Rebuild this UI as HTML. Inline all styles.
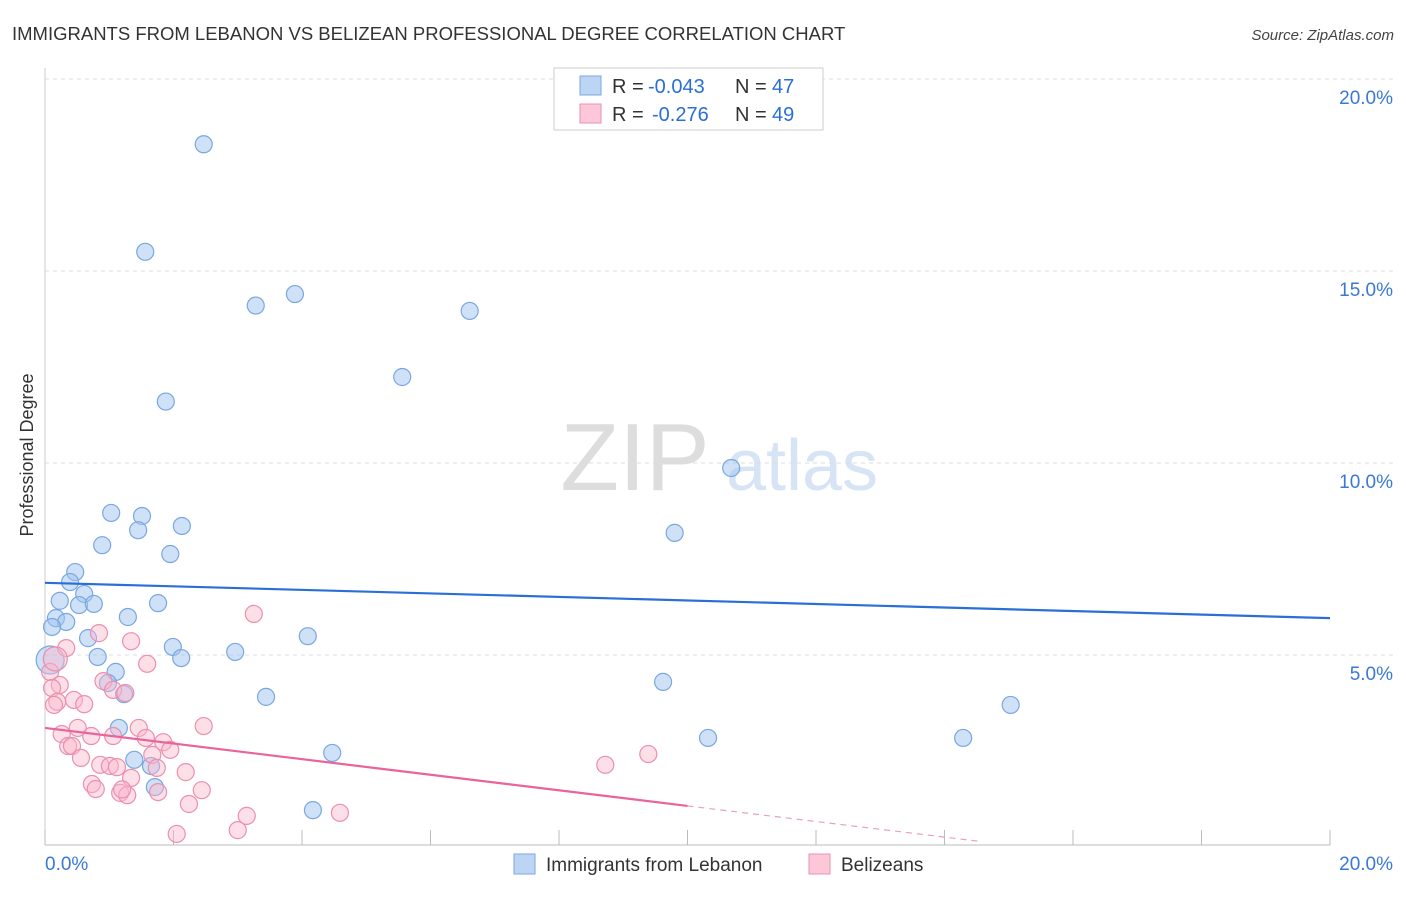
<!DOCTYPE html>
<html><head><meta charset="utf-8"><style>
body{margin:0;background:#fff;font-family:"Liberation Sans",sans-serif}
svg text{font-family:"Liberation Sans",sans-serif}
</style></head><body>
<svg id="chart" width="1406" height="892" xmlns="http://www.w3.org/2000/svg">
<text x="12" y="40" font-size="18.5" fill="#333">IMMIGRANTS FROM LEBANON VS BELIZEAN PROFESSIONAL DEGREE CORRELATION CHART</text>
<text x="1394" y="40" font-size="15" fill="#444" font-style="italic" text-anchor="end">Source: ZipAtlas.com</text>
<text x="33" y="455" font-size="18" fill="#333" text-anchor="middle" transform="rotate(-90 33 455)">Professional Degree</text>
<g><text x="635" y="490" font-size="96" fill="#ddd" font-family="Liberation Serif" text-anchor="middle">ZIP</text><text x="802" y="490" font-size="72" fill="#d6e4f5" text-anchor="middle">atlas</text></g>
<g id="grid"></g><g id="marks"></g>
<g>
<rect x="554" y="68" width="269" height="62" fill="#fff" stroke="#ccc"/>
<rect x="580" y="76" width="21" height="19" fill="#bcd5f5" stroke="#7aa7e0"/>
<rect x="580" y="104" width="21" height="19" fill="#fcc8d8" stroke="#eb8fb0"/>
<text x="612" y="93" font-size="20" fill="#333">R =</text>
<text x="648" y="93" font-size="20" fill="#2a6fd6">-0.043</text>
<text x="735" y="93" font-size="20" fill="#333">N =</text>
<text x="772" y="93" font-size="20" fill="#2a6fd6">47</text>
<text x="612" y="121" font-size="20" fill="#333">R =</text>
<text x="652" y="121" font-size="20" fill="#2a6fd6">-0.276</text>
<text x="735" y="121" font-size="20" fill="#333">N =</text>
<text x="772" y="121" font-size="20" fill="#2a6fd6">49</text>
</g>
<g>
<rect x="514" y="854" width="21" height="20" fill="#bcd5f5" stroke="#7aa7e0"/>
<text x="546" y="871" font-size="19" fill="#333">Immigrants from Lebanon</text>
<rect x="809" y="854" width="21" height="20" fill="#fcc8d8" stroke="#eb8fb0"/>
<text x="841" y="871" font-size="19" fill="#333">Belizeans</text>
</g>
</svg>
<script>
const yTicks=[5,10,15,20];
const xTickLabels=["0.0%","20.0%"];
const blueX=[2.47,1.56,3.28,3.89,6.61,5.56,1.88,10.68,9.8,1.03,1.51,2.13,1.45,0.89,1.95,0.47,0.39,0.61,0.23,0.53,0.76,1.76,1.29,0.17,0.33,0.11,4.09,0.67,1.99,2.96,0.82,2.12,0.08,1.1,0.98,1.23,3.44,9.62,15.03,1.15,10.32,14.29,4.47,1.39,1.65,1.71,4.17];
const blueY=[18.3,15.5,14.1,14.4,13.96,12.24,11.6,9.87,8.18,8.7,8.62,8.36,8.25,7.86,7.63,7.16,6.9,6.59,6.41,6.3,6.33,6.35,5.99,5.96,5.86,5.73,5.49,5.44,5.21,5.08,4.95,4.92,4.87,4.56,4.27,3.98,3.91,4.3,3.7,3.1,2.84,2.84,2.45,2.27,2.11,1.56,0.96];
const pinkX=[3.25,0.84,1.34,0.33,1.59,0.08,0.23,0.11,0.91,1.06,1.25,0.45,0.19,0.61,0.14,2.47,1.46,0.51,0.26,0.72,1.06,1.57,1.84,0.36,0.42,1.95,1.67,0.56,9.39,8.72,0.86,1.01,1.12,1.74,2.19,1.34,0.73,0.79,1.17,1.28,1.76,2.44,2.24,3.14,4.59,2.05,3.0,0.16,1.2];
const pinkY=[6.07,5.57,5.36,5.18,4.77,4.56,4.22,4.14,4.32,4.09,4.01,3.83,3.78,3.72,3.7,3.15,3.1,3.1,2.94,2.89,2.89,2.84,2.73,2.63,2.63,2.53,2.4,2.32,2.42,2.14,2.14,2.11,2.08,2.06,1.95,1.8,1.64,1.51,1.41,1.35,1.43,1.48,1.12,0.81,0.89,0.34,0.44,4.9,1.5];
const blueTrend=[6.88,5.96];
const pinkTrend=[3.1,1.07];
const X=v=>45+v*64.25, Y=v=>847-v*38.4;
const NS="http://www.w3.org/2000/svg";
function mk(tag,attrs,parent){const e=document.createElementNS(NS,tag);for(const k in attrs)e.setAttribute(k,attrs[k]);parent.appendChild(e);return e;}
const grid=document.getElementById('grid'),marks=document.getElementById('marks');
yTicks.forEach(t=>{
 const l=mk('line',{x1:45,x2:1394,y1:Y(t),y2:Y(t),stroke:'#ddd','stroke-dasharray':'4,4'},grid);
 
 
 const tx=mk('text',{x:1393,y:Y(t)+25,'font-size':19,fill:'#3a78d8','text-anchor':'end'},grid);
 tx.textContent=t.toFixed(1)+'%';
 
 
});
const ax=mk('line',{x1:45,x2:1330,y1:845,y2:845,stroke:'#bbb'},grid);


const ay=mk('line',{x1:45,x2:45,y1:68,y2:845,stroke:'#ccc'},grid);


for(let i=0;i<=10;i++){const t=mk('line',{x1:X(i*2),x2:X(i*2),y1:830,y2:845,stroke:'#bbb'},grid);
 
 }
const xl0=mk('text',{x:45,y:870,'font-size':19,fill:'#3a78d8'},grid);xl0.textContent=xTickLabels[0];


const xl1=mk('text',{x:1393,y:870,'font-size':19,fill:'#3a78d8','text-anchor':'end'},grid);xl1.textContent=xTickLabels[1];


blueX.forEach((x,i)=>{const c=mk('circle',{cx:X(x),cy:Y(blueY[i]),r:i==32?14:8.5,fill:'rgba(160,195,240,0.5)',stroke:'#7aa7e0','stroke-width':1.2},marks);
 
 });
pinkX.forEach((x,i)=>{const c=mk('circle',{cx:X(x),cy:Y(pinkY[i]),r:i==47?12:8.5,fill:'rgba(250,185,205,0.45)',stroke:'#eb8fb0','stroke-width':1.2},marks);
 
 });
const bl=mk('line',{x1:X(0),y1:Y(blueTrend[0]),x2:X(20),y2:Y(blueTrend[1]),stroke:'#2a6fd6','stroke-width':2.2},marks);


const pl=mk('line',{x1:X(0),y1:Y(pinkTrend[0]),x2:X(10),y2:Y(pinkTrend[1]),stroke:'#e8649a','stroke-width':2.2},marks);


const slope=(pinkTrend[1]-pinkTrend[0])/10, xe=Math.min(20,(0.12-pinkTrend[0])/slope);
const pd=mk('line',{x1:X(10),y1:Y(pinkTrend[1]),x2:X(Math.min(xe,14.55)),y2:Y(pinkTrend[0]+slope*Math.min(xe,14.55)),stroke:'#e8a0bb','stroke-width':1.2,'stroke-dasharray':'6,5'},marks);


</script>
</body></html>
